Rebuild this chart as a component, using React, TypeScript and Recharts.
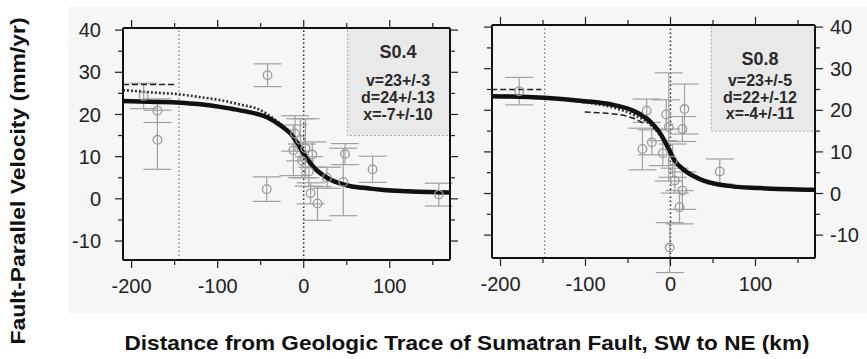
import React from "react";
import {
  ComposedChart,
  Line,
  Scatter,
  ErrorBar,
  XAxis,
  YAxis,
  ReferenceLine,
  ReferenceArea,
} from "recharts";

// ---- data ----
const xTicks = [-200, -150, -100, -50, 0, 50, 100, 150];
const yTicks = [-10, -5, 0, 5, 10, 15, 20, 25, 30, 35, 40];
const xMajor = [-200, -100, 0, 100];
const yMajor = [-10, 0, 10, 20, 30, 40];

// S0.4 panel
const solidLeft = [
  { x: -210, y: 23.2 }, { x: -180, y: 23.0 }, { x: -143, y: 22.8 }, { x: -120, y: 22.4 },
  { x: -97, y: 21.8 }, { x: -80, y: 21.2 }, { x: -62, y: 20.5 }, { x: -42, y: 19.3 },
  { x: -27, y: 17.4 }, { x: -15, y: 15.4 }, { x: -7, y: 13.1 }, { x: 0, y: 10.7 },
  { x: 8, y: 8.4 }, { x: 14, y: 7.0 }, { x: 20, y: 6.0 }, { x: 27, y: 5.0 },
  { x: 35, y: 4.2 }, { x: 45, y: 3.5 }, { x: 55, y: 3.0 }, { x: 75, y: 2.5 },
  { x: 93, y: 2.1 }, { x: 120, y: 1.8 }, { x: 145, y: 1.6 }, { x: 170, y: 1.5 },
];
const dottedLeft = [
  { x: -210, y: 25.8 }, { x: -175, y: 25.2 }, { x: -145, y: 24.8 }, { x: -120, y: 24.1 },
  { x: -97, y: 23.4 }, { x: -75, y: 22.4 }, { x: -50, y: 21.0 }, { x: -35, y: 19.0 },
  { x: -25, y: 17.4 }, { x: -15, y: 15.3 }, { x: -7, y: 13.0 }, { x: 0, y: 10.5 },
  { x: 8, y: 8.1 }, { x: 20, y: 5.7 }, { x: 35, y: 4.0 }, { x: 55, y: 2.9 },
  { x: 93, y: 2.0 }, { x: 130, y: 1.6 }, { x: 170, y: 1.4 },
];
const dashedLeft = [{ x: -210, y: 27.1 }, { x: -150, y: 27.1 }];
const pointsLeft = [
  { x: -42, y: 29.3, e: 2.7 }, { x: -186, y: 24.4, e: 3 }, { x: -170, y: 20.9, e: 2.8 },
  { x: -170, y: 14.0, e: 7 }, { x: -43, y: 2.3, e: 2.9 }, { x: 48, y: 10.6, e: 2.5 },
  { x: 46, y: 4.0, e: 8 }, { x: 80, y: 7.0, e: 3.1 }, { x: 157, y: 1.0, e: 2.7 },
  { x: 8, y: 1.3, e: 2.5 }, { x: 16, y: -1.1, e: 4 }, { x: -10, y: 15.5, e: 4.2 },
  { x: -12, y: 11.5, e: 6 }, { x: -4, y: 14.0, e: 5 }, { x: 2, y: 12.0, e: 7 },
  { x: 10, y: 10.5, e: 3 }, { x: 6, y: 6.5, e: 3.5 }, { x: 27, y: 5.0, e: 2.5 },
  { x: -2, y: 9.0, e: 4 },
];

// S0.8 panel
const solidRight = [
  { x: -211, y: 23.4 }, { x: -148, y: 23.0 }, { x: -101, y: 22.2 }, { x: -72, y: 21.5 },
  { x: -44, y: 19.9 }, { x: -25, y: 17.5 }, { x: -13, y: 14.7 }, { x: -3, y: 11.1 },
  { x: 5, y: 7.9 }, { x: 14.5, y: 5.9 }, { x: 34, y: 3.5 }, { x: 65, y: 1.9 },
  { x: 105, y: 1.3 }, { x: 169, y: 0.9 },
];
const dottedRight = [
  { x: -211, y: 23.6 }, { x: -148, y: 23.1 }, { x: -101, y: 21.9 }, { x: -72, y: 20.9 },
  { x: -44, y: 19.0 }, { x: -25, y: 16.8 }, { x: -13, y: 14.2 }, { x: -3, y: 10.8 },
  { x: 5, y: 7.6 }, { x: 15, y: 5.7 }, { x: 34, y: 3.4 }, { x: 65, y: 1.8 },
  { x: 105, y: 1.2 }, { x: 169, y: 0.8 },
];
const dashedRight1 = [{ x: -211, y: 25.0 }, { x: -152, y: 25.0 }];
const dashedRight2 = [
  { x: -101, y: 19.6 }, { x: -75, y: 19.3 }, { x: -55, y: 18.8 }, { x: -42, y: 18.0 }, { x: -32, y: 16.9 },
];
const pointsRight = [
  { x: -178, y: 24.6, e: 3.3 }, { x: -28, y: 19.9, e: 2.8 }, { x: -33, y: 10.7, e: 5 },
  { x: -22, y: 12.3, e: 3 }, { x: -9, y: 9.7, e: 3 }, { x: -5, y: 19.0, e: 3.5 },
  { x: -2, y: 16.0, e: 13 }, { x: 16.5, y: 20.3, e: 6 }, { x: 14, y: 15.5, e: 3 },
  { x: 14, y: 0.7, e: 4.5 }, { x: 10.6, y: -3.3, e: 4 }, { x: -1, y: -13.0, e: 6 },
  { x: 58, y: 5.3, e: 3 }, { x: 2.5, y: 7.9, e: 4 }, { x: 5, y: 3.1, e: 3 },
];

const FONT = "'Liberation Sans', Arial, Helvetica, sans-serif";
const TICK = 8;
const X_DOMAIN = [-210, 170];

type Side = "left" | "right" | "top" | "bottom";

function makeTick(side: Side, margin: number, labels: boolean) {
  return (p: any) => {
    const { x, y, payload } = p;
    const v = payload.value;
    const isX = side === "top" || side === "bottom";
    const major = isX ? xMajor.includes(v) : yMajor.includes(v);
    const len = major ? TICK : 5;
    const style = { stroke: "#222", strokeWidth: 1.2 };
    if (side === "left") {
      const ax = x + margin + TICK;
      return (
        <g>
          <line x1={ax - len} x2={ax} y1={y} y2={y} style={style} />
          {labels && major && (
            <text x={x} y={y} dy="0.36em" textAnchor="end" fontSize={20} fill="#222" fontFamily={FONT}>{v}</text>
          )}
        </g>
      );
    }
    if (side === "right") {
      const ax = x - margin - TICK;
      return (
        <g>
          <line x1={ax} x2={ax + len} y1={y} y2={y} style={style} />
          {labels && major && (
            <text x={x} y={y} dy="0.36em" textAnchor="start" fontSize={20} fill="#222" fontFamily={FONT}>{v}</text>
          )}
        </g>
      );
    }
    if (side === "bottom") {
      const ay = y - margin - TICK;
      return (
        <g>
          <line x1={x} x2={x} y1={ay} y2={ay + len} style={style} />
          {labels && major && (
            <text x={x} y={y + 15} textAnchor="middle" fontSize={20} fill="#222" fontFamily={FONT}>{v}</text>
          )}
        </g>
      );
    }
    const ay = y + margin + TICK;
    return <line x1={x} x2={x} y1={ay - len} y2={ay} style={style} />;
  };
}

const Dot = (p: any) => (
  <circle cx={p.cx} cy={p.cy} r={4.3} fill="none" stroke="#9a9a9a" strokeWidth={1.3} />
);

const frame = { stroke: "#111", strokeWidth: 2 };

interface PanelProps {
  solid: { x: number; y: number }[];
  dotted: { x: number; y: number }[];
  dashed: { x: number; y: number }[][];
  points: { x: number; y: number; e: number }[];
  yDomain: number[];
  leftLabels: boolean;
  width: number;
  margin: { top: number; right: number; left: number; bottom: number };
  leftW: number;
  rightW: number;
  boxX: number;
  traceX: number;
}

function Panel(props: PanelProps) {
  const { solid, dotted, dashed, points, yDomain, leftLabels, width, margin, leftW, rightW, boxX, traceX } = props;
  return (
    <ComposedChart width={width} height={300} margin={margin}>
      <XAxis
        xAxisId="b"
        type="number"
        dataKey="x"
        domain={X_DOMAIN}
        allowDataOverflow
        ticks={xTicks}
        interval={0}
        height={30}
        tickSize={TICK}
        tickMargin={10}
        axisLine={frame}
        tickLine={false}
        tick={makeTick("bottom", 10, true)}
      />
      <XAxis
        xAxisId="t"
        orientation="top"
        type="number"
        dataKey="x"
        domain={X_DOMAIN}
        allowDataOverflow
        ticks={xTicks}
        interval={0}
        height={10}
        tickSize={TICK}
        tickMargin={2}
        axisLine={frame}
        tickLine={false}
        tick={makeTick("top", 2, false)}
      />
      <YAxis
        yAxisId="l"
        type="number"
        domain={yDomain}
        allowDataOverflow
        ticks={yTicks}
        interval={0}
        width={leftW}
        tickSize={TICK}
        tickMargin={14}
        axisLine={frame}
        tickLine={false}
        tick={makeTick("left", 14, leftLabels)}
      />
      <YAxis
        yAxisId="r"
        orientation="right"
        type="number"
        domain={yDomain}
        allowDataOverflow
        ticks={yTicks}
        interval={0}
        width={rightW}
        tickSize={TICK}
        tickMargin={7}
        axisLine={frame}
        tickLine={false}
        tick={makeTick("right", 7, !leftLabels)}
      />
      <ReferenceArea
        xAxisId="b"
        yAxisId="l"
        x1={boxX}
        x2={X_DOMAIN[1]}
        y1={15}
        y2={yDomain[1]}
        fill="#e9e9e9"
        fillOpacity={1}
        stroke="#a8a8a8"
        strokeDasharray="2 2"
      />
      <ReferenceLine xAxisId="b" yAxisId="l" x={traceX} stroke="#777" strokeDasharray="1.5 2.5" strokeWidth={1.2} />
      <ReferenceLine xAxisId="b" yAxisId="l" x={0} stroke="#222" strokeDasharray="1.5 2.5" strokeWidth={1.4} />
      <Scatter
        xAxisId="b"
        yAxisId="l"
        data={points}
        dataKey="y"
        shape={Dot}
        isAnimationActive={false}
      >
        <ErrorBar dataKey="e" direction="y" width={14} stroke="#a0a0a0" strokeWidth={1.2} />
      </Scatter>
      {dashed.map((d, i) => (
        <Line
          key={i}
          xAxisId="b"
          yAxisId="l"
          data={d}
          dataKey="y"
          type="linear"
          stroke="#222"
          strokeWidth={1.6}
          strokeDasharray="6 3"
          dot={false}
          isAnimationActive={false}
        />
      ))}
      <Line
        xAxisId="b"
        yAxisId="l"
        data={dotted}
        dataKey="y"
        type="monotone"
        stroke="#333"
        strokeWidth={2.6}
        strokeDasharray="2 2"
        dot={false}
        isAnimationActive={false}
      />
      <Line
        xAxisId="b"
        yAxisId="l"
        data={solid}
        dataKey="y"
        type="monotone"
        stroke="#111"
        strokeWidth={4.5}
        dot={false}
        isAnimationActive={false}
      />
    </ComposedChart>
  );
}

const boxText: React.CSSProperties = {
  position: "absolute",
  width: 120,
  textAlign: "center",
  fontFamily: FONT,
  fontWeight: 700,
  color: "#2a2a2a",
  fontSize: 16,
  lineHeight: "17px",
};

export default function App() {
  return (
    <div style={{ position: "absolute", left: 0, top: 0, width: 867, height: 359, background: "#fff", overflow: "hidden" }}>
      <div style={{ position: "absolute", left: 68, top: 7, width: 799, height: 306, background: "#f6f6f6" }} />
      <div style={{ position: "absolute", left: 0, top: 0 }}>
        <Panel
          solid={solidLeft}
          dotted={dottedLeft}
          dashed={[dashedLeft]}
          points={pointsLeft}
          yDomain={[-14.5, 40.5]}
          leftLabels={true}
          width={470}
          margin={{ top: 18, right: 0, left: 63, bottom: 10 }}
          leftW={60}
          rightW={20}
          boxX={51}
          traceX={-145}
        />
      </div>
      <div style={{ position: "absolute", left: 430, top: 0 }}>
        <Panel
          solid={solidRight}
          dotted={dottedRight}
          dashed={[dashedRight1, dashedRight2]}
          points={pointsRight}
          yDomain={[-15.5, 40.5]}
          leftLabels={false}
          width={437}
          margin={{ top: 15, right: 7, left: 42, bottom: 12 }}
          leftW={20}
          rightW={45}
          boxX={48}
          traceX={-148}
        />
      </div>
      <div style={{ ...boxText, left: 338, top: 44, fontSize: 18 }}>S0.4</div>
      <div style={{ ...boxText, left: 338, top: 72 }}>v=23+/-3</div>
      <div style={{ ...boxText, left: 338, top: 89 }}>d=24+/-13</div>
      <div style={{ ...boxText, left: 338, top: 106 }}>x=-7+/-10</div>
      <div style={{ ...boxText, left: 700, top: 51, fontSize: 18 }}>S0.8</div>
      <div style={{ ...boxText, left: 700, top: 72 }}>v=23+/-5</div>
      <div style={{ ...boxText, left: 700, top: 89 }}>d=22+/-12</div>
      <div style={{ ...boxText, left: 700, top: 105 }}>x=-4+/-11</div>
      <svg width={867} height={359} style={{ position: "absolute", left: 0, top: 0, pointerEvents: "none" }}>
        <text
          x={18}
          y={181}
          transform="rotate(-90 18 181)"
          textAnchor="middle"
          dy="0.35em"
          fontFamily={FONT}
          fontWeight={700}
          fontSize={21}
          fill="#111"
          textLength={327}
          lengthAdjust="spacingAndGlyphs"
        >
          Fault-Parallel Velocity (mm/yr)
        </text>
        <text
          x={467}
          y={350}
          textAnchor="middle"
          fontFamily={FONT}
          fontWeight={700}
          fontSize={21}
          fill="#111"
          textLength={685}
          lengthAdjust="spacingAndGlyphs"
        >
          Distance from Geologic Trace of Sumatran Fault, SW to NE (km)
        </text>
      </svg>
    </div>
  );
}
